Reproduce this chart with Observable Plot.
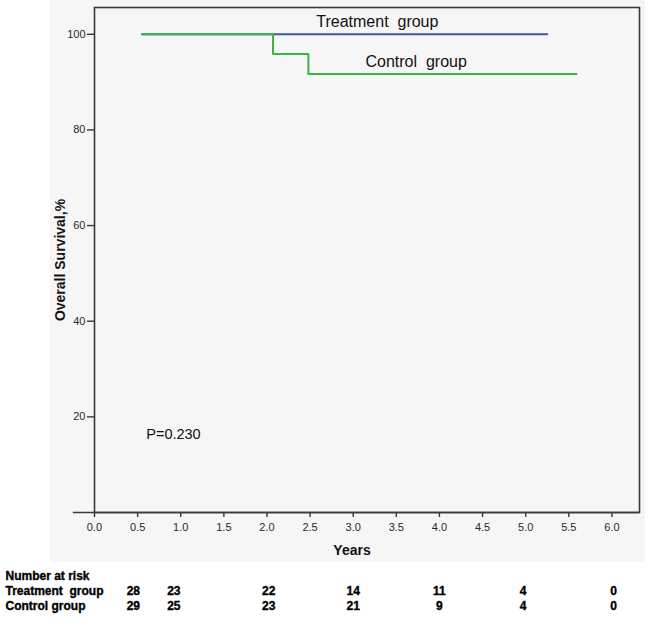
<!DOCTYPE html>
<html>
<head>
<meta charset="utf-8">
<script src="https://cdn.jsdelivr.net/npm/d3@7"></script>
<script src="https://cdn.jsdelivr.net/npm/@observablehq/plot@0.6"></script>
<style>
  html, body { margin: 0; padding: 0; background: #ffffff; }
  #wrap { position: relative; width: 657px; height: 627px; }
  #bg { position: absolute; left: 50px; top: 0; width: 595px; height: 562px; background: #f6f6f6; }
  #chart { position: absolute; left: 0; top: 0; }
  svg { font-family: "Liberation Sans", Arial, sans-serif; }
</style>
</head>
<body>
<div id="wrap"><div id="bg"></div><div id="chart"></div></div>
<script>
// Kaplan–Meier step points (years, survival %)
const treatmentTimes = [0.55, 5.25];
const treatmentSurv = [100, 100];
const controlTimes = [0.55, 2.07, 2.48, 5.59];
const controlSurv = [100, 95.9, 91.7, 91.7];

// axis ticks
const xTicks = [0, 0.5, 1, 1.5, 2, 2.5, 3, 3.5, 4, 4.5, 5, 5.5, 6];
const yTicks = [20, 40, 60, 80, 100];

// number at risk table
const riskTitle = "Number at risk";
const riskGroups = ["Treatment  group", "Control group"];
const riskLabelYears = [0.45, 0.92, 2.02, 3, 4, 4.97, 6.02];
const riskTreatment = [28, 23, 22, 14, 11, 4, 0];
const riskControl = [29, 25, 23, 21, 9, 4, 0];

// annotations
const groupLabels = ["Treatment  group", "Control  group"];
const groupLabelX = [3.28, 3.73];
const groupLabelY = [102.6, 94.2];
const pValueText = "P=0.230";

const treatment = treatmentTimes.map((t, i) => ({t, s: treatmentSurv[i]}));
const control = controlTimes.map((t, i) => ({t, s: controlSurv[i]}));
const labels = groupLabels.map((text, i) => ({text, x: groupLabelX[i], y: groupLabelY[i]}));
const riskRowT = riskLabelYears.map((x, i) => ({x, v: riskTreatment[i]}));
const riskRowC = riskLabelYears.map((x, i) => ({x, v: riskControl[i]}));

const tableFont = '"Liberation Sans Narrow", "Arial Narrow", "Liberation Sans", sans-serif';
const frameColor = "#3a3a3a";
const rowDy = [67, 82, 97];

const tableText = (data, opts) => Plot.text(data, {
  textAnchor: "start", fontSize: 12, fontWeight: "bold", fill: "#000",
  fontFamily: tableFont, stroke: "#000", strokeWidth: 0.35,
  style: {letterSpacing: "-0.6px"}, ...opts
});

const chart = Plot.plot({
  width: 657,
  height: 627,
  marginLeft: 94,
  marginRight: 18,
  marginTop: 7,
  marginBottom: 115,
  style: {background: "transparent", overflow: "visible"},
  x: {domain: [0, 6.32]},
  y: {domain: [0, 105.6]},
  marks: [
    Plot.ruleY([0], {x1: -0.245, x2: 6.32, stroke: frameColor, strokeWidth: 1.6}),
    Plot.frame({stroke: frameColor, strokeWidth: 1.6}),
    Plot.axisX({ticks: xTicks, tickFormat: d3.format(".1f"), tickSize: 5, tickPadding: 6,
      fontSize: 11, stroke: frameColor, strokeWidth: 1.4, fill: "#2a2a2a", label: null}),
    Plot.axisY({ticks: yTicks, tickSize: 7, tickPadding: 2, fontSize: 11,
      stroke: frameColor, strokeWidth: 1.4, fill: "#2a2a2a", label: null}),
    Plot.line(treatment, {x: "t", y: "s", curve: "step-after", stroke: "#3d5aa8", strokeWidth: 2}),
    Plot.line(control, {x: "t", y: "s", curve: "step-after", stroke: "#3cb449", strokeWidth: 2}),
    Plot.text(labels, {x: "x", y: "y", text: "text", fontSize: 16, fill: "#111",
      style: {letterSpacing: "0.3px"}}),
    Plot.text([pValueText], {x: 0.6, y: 16.4, text: d => d, textAnchor: "start", fontSize: 14.5, fill: "#111"}),
    // axis titles
    Plot.text(["Overall Survival,%"], {frameAnchor: "left", dx: -34, rotate: -90, text: d => d,
      textAnchor: "middle", lineAnchor: "middle",
      fontSize: 14, fontWeight: "bold", fill: "#111"}),
    Plot.text(["Years"], {frameAnchor: "bottom", dx: -15, dy: 38, text: d => d,
      lineAnchor: "middle", fontSize: 14, fontWeight: "bold", fill: "#111"}),
    // number at risk
    tableText([riskTitle], {frameAnchor: "bottom-left", dx: -89, dy: rowDy[0], text: d => d}),
    tableText([riskGroups[0]], {frameAnchor: "bottom-left", dx: -89, dy: rowDy[1], text: d => d}),
    tableText([riskGroups[1]], {frameAnchor: "bottom-left", dx: -89, dy: rowDy[2], text: d => d}),
    tableText(riskRowT, {x: "x", frameAnchor: "bottom", dy: rowDy[1], text: "v", textAnchor: "middle"}),
    tableText(riskRowC, {x: "x", frameAnchor: "bottom", dy: rowDy[2], text: "v", textAnchor: "middle"})
  ]
});
document.getElementById("chart").appendChild(chart);
</script>
</body>
</html>
